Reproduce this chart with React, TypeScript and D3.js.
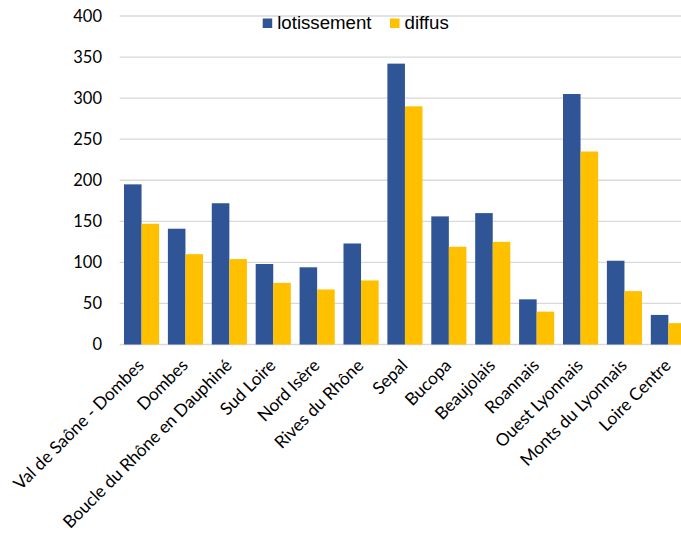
import React from "react";
import * as d3 from "d3";

const categories = [
  "Val de Saône - Dombes",
  "Dombes",
  "Boucle du Rhône en Dauphiné",
  "Sud Loire",
  "Nord Isère",
  "Rives du Rhône",
  "Sepal",
  "Bucopa",
  "Beaujolais",
  "Roannais",
  "Ouest Lyonnais",
  "Monts du Lyonnais",
  "Loire Centre",
];
const lotissement = [195, 141, 172, 98, 94, 123, 342, 156, 160, 55, 305, 102, 36];
const diffus = [147, 110, 104, 75, 67, 78, 290, 119, 125, 40, 235, 65, 26];
const seriesNames = ["lotissement", "diffus"];
const yTicks = [0, 50, 100, 150, 200, 250, 300, 350, 400];

const W = 681;
const H = 535;
const colors = ["#2F5597", "#FFC000"];

export default function App() {
  const x = d3.scaleBand<string>().domain(categories).range([119.6, 690.3]).paddingInner(0.2).paddingOuter(0.1);
  const x1 = d3.scaleBand<string>().domain(seriesNames).range([0, x.bandwidth()]);
  const y = d3.scaleLinear().domain([0, 400]).range([344.5, 16]);
  const series = [lotissement, diffus];
  const labelFont = "Lato, 'Noto Sans', sans-serif";

  return (
    <svg width={W} height={H} style={{ position: "absolute", left: 0, top: 0, background: "#fff" }}>
      <rect width={W} height={H} fill="#fff" />
      {yTicks.map((t) => (
        <g key={t}>
          <line x1={119.6} x2={W} y1={y(t)} y2={y(t)} stroke="#D9D9D9" strokeWidth={1.3} />
          <text x={102} y={y(t)} dy="0.36em" textAnchor="end" fontFamily={labelFont} fontSize={16.5} fill="#000">
            {t}
          </text>
        </g>
      ))}
      {series.map((vals, si) =>
        vals.map((v, i) => (
          <rect
            key={`${si}-${i}`}
            x={(x(categories[i]) as number) + (x1(seriesNames[si]) as number)}
            y={y(v)}
            width={x1.bandwidth()}
            height={y(0) - y(v)}
            fill={colors[si]}
          />
        ))
      )}
      {categories.map((c) => {
        const cx = (x(c) as number) + x.bandwidth() / 2 - 5;
        const cy = 358;
        return (
          <text
            key={c}
            transform={`translate(${cx},${cy}) rotate(-45)`}
            textAnchor="end"
            dy="0.7em"
            fontFamily={labelFont}
            fontSize={17.3}
            fill="#000"
          >
            {c}
          </text>
        );
      })}
      {seriesNames.map((s, si) => {
        const lx = [262.7, 390][si];
        return (
          <g key={s}>
            <rect x={lx} y={18.5} width={9.5} height={9.5} fill={colors[si]} />
            <text x={lx + 14.5} y={29} fontFamily="'Liberation Sans', Arial, sans-serif" fontSize={18.67} fill="#000">
              {s}
            </text>
          </g>
        );
      })}
    </svg>
  );
}
